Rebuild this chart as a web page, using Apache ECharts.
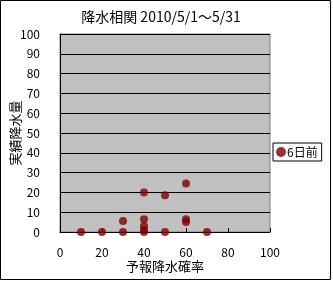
<!DOCTYPE html>
<html><head><meta charset="utf-8">
<script src="https://cdn.jsdelivr.net/npm/echarts@6/dist/echarts.min.js"></script>
<style>html,body{margin:0;padding:0;background:#fff}#c{width:333px;height:282px}</style>
</head><body><div id="c"></div>
<script>
const titleText = '降水相関 2010/5/1～5/31';
const seriesName = '6日前';
const xName = '予報降水確率';
const yName = '実績降水量';
const forecastPct = [10, 20, 30, 30, 40, 40, 40, 40, 40, 50, 50, 60, 60, 60, 70];
const actualMm    = [0,  0,  0,  5.5, 0, 1,  3,  6.5, 20, 0, 18.5, 24.5, 5, 6.5, 0];
const font = '"Noto Sans CJK JP", sans-serif';

const chart = echarts.init(document.getElementById('c'), null, {renderer: 'canvas'});
chart.setOption({
  animation: false,
  backgroundColor: '#fff',
  title: {text: titleText, left: 156, textAlign: 'center', top: 5,
    textStyle: {fontFamily: font, fontSize: 14, fontWeight: 'normal', color: '#000'}},
  graphic: [{type: 'rect', shape: {x: 0.5, y: 0.5, width: 330, height: 279},
    style: {fill: 'none', stroke: '#000', lineWidth: 1}, silent: true}],
  legend: {left: 273, top: 143, width: 45, itemWidth: 10, itemHeight: 10, itemGap: 0,
    padding: [3, 4, 3, 3], borderColor: '#000', borderWidth: 1,
    icon: 'circle', textStyle: {fontFamily: font, fontSize: 12, color: '#000', padding: [0, 0, 0, -4]},
    data: [seriesName]},
  grid: {left: 60, right: 63, top: 34, bottom: 50, show: true, containLabel: false,
    outerBoundsMode: 'none',
    backgroundColor: '#c0c0c0', borderColor: '#808080', borderWidth: 1},
  xAxis: {type: 'value', min: 0, max: 100, interval: 20,
    name: xName, nameLocation: 'middle', nameGap: 28, nameMoveOverlap: false,
    nameTextStyle: {fontFamily: font, fontSize: 13, color: '#000'},
    axisLine: {show: true, lineStyle: {color: '#000'}},
    axisTick: {show: true, inside: true, length: 4, lineStyle: {color: '#000'}},
    axisLabel: {fontFamily: font, fontSize: 12, color: '#000', margin: 14},
    splitLine: {show: false}},
  yAxis: {type: 'value', min: 0, max: 100, interval: 10,
    name: yName, nameLocation: 'middle', nameGap: 38, nameRotate: 90, nameMoveOverlap: false,
    nameTextStyle: {fontFamily: font, fontSize: 13, color: '#000'},
    axisLine: {show: true, lineStyle: {color: '#000'}},
    axisTick: {show: true, inside: true, length: 4, lineStyle: {color: '#000'}},
    axisLabel: {fontFamily: font, fontSize: 12, color: '#000', margin: 20},
    splitLine: {show: true, lineStyle: {color: '#000', width: 1}}},
  series: [{name: seriesName, type: 'scatter', symbol: 'circle', symbolSize: 8,
    itemStyle: {color: '#800000'},
    data: forecastPct.map((x, i) => [x, actualMm[i]])}]
});
</script></body></html>
